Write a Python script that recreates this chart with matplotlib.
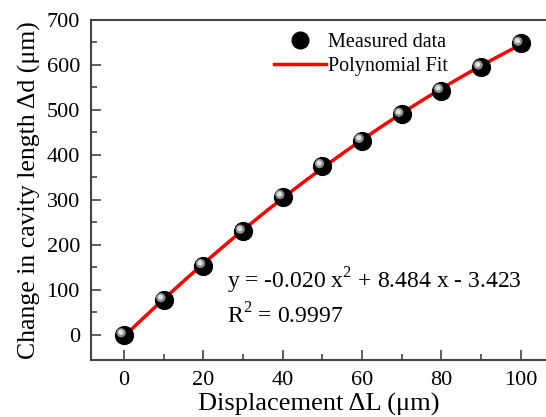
import numpy as np
import matplotlib
matplotlib.use('Agg')
import matplotlib.pyplot as plt
from matplotlib.lines import Line2D

plt.rcParams['font.family'] = ['Liberation Serif', 'DejaVu Serif']
plt.rcParams['mathtext.fontset'] = 'custom'
plt.rcParams['mathtext.rm'] = 'Liberation Serif'

# data
displacement = [0, 10, 20, 30, 40, 50, 60, 70, 80, 90, 100]
cavity_change = [0, 78, 154, 230, 307, 376, 432, 490, 543, 595, 648]
fit_coef = [-0.020, 8.484, -3.423]  # a x^2 + b x + c
r_squared = 0.9997

fig = plt.figure(figsize=(5.46, 4.17), dpi=100)
ax = fig.add_axes([91 / 546, 57 / 417, 1 - 91 / 546, 340 / 417])

xf = np.linspace(0, 100, 200)
yf = np.polyval(fit_coef, xf)
ax.plot(xf, yf, color='red', lw=2.5, zorder=2)

# shaded-sphere look: black ball with a grey highlight
dx = np.array(displacement, dtype=float)
dy = np.array(cavity_change, dtype=float)
ax.scatter(dx, dy, s=165, color='black', zorder=3)
ax.scatter(dx - 0.7, dy + 5, s=45, color='#8a8a8a', edgecolors='none', zorder=4)
ax.scatter(dx - 0.8, dy + 6, s=14, color='#e0e0e0', edgecolors='none', zorder=5)

ax.set_xlim(-8.3, 106.4)
ax.set_ylim(-55.6, 700)
ax.set_xticks([0, 20, 40, 60, 80, 100])
ax.set_xticks([10, 30, 50, 70, 90], minor=True)
ax.set_yticks(range(0, 701, 100))
ax.set_yticks(range(50, 700, 100), minor=True)
ax.tick_params(direction='in', length=7, width=1.2, labelsize=16, colors='#444444',
               labelcolor='black', pad=8)
ax.tick_params(which='minor', direction='in', length=4, width=1.2, colors='#444444')
for s in ['left', 'bottom', 'top']:
    ax.spines[s].set_linewidth(1.5)
    ax.spines[s].set_color('#444444')
ax.spines['right'].set_visible(False)

ax.set_xlabel('Displacement \u0394L (\u03bcm)', fontsize=19, labelpad=2)
ax.set_ylabel('Change in cavity length \u0394d (\u03bcm)', fontsize=18.5, labelpad=4)

ax.text((227 - 91) / 455, (360 - 288) / 340, 'y = -0.020 x$^{2}$ + 8.484 x - 3.423',
        transform=ax.transAxes, fontsize=17, va='baseline')
ax.text((227 - 91) / 455, (360 - 323) / 340, 'R$^{2}$ = 0.9997',
        transform=ax.transAxes, fontsize=17, va='baseline')

handles = [Line2D([], [], marker='o', ls='none', color='black', markersize=12),
           Line2D([], [], color='red', lw=2.5)]
ax.legend(handles, ['Measured data', 'Polynomial Fit'], loc='upper left',
          bbox_to_anchor=(0.362, 1.015), frameon=False, fontsize=14.5, handlelength=2.6,
          handletextpad=0.1, labelspacing=0.25)

fig.savefig('out.png', dpi=100)
